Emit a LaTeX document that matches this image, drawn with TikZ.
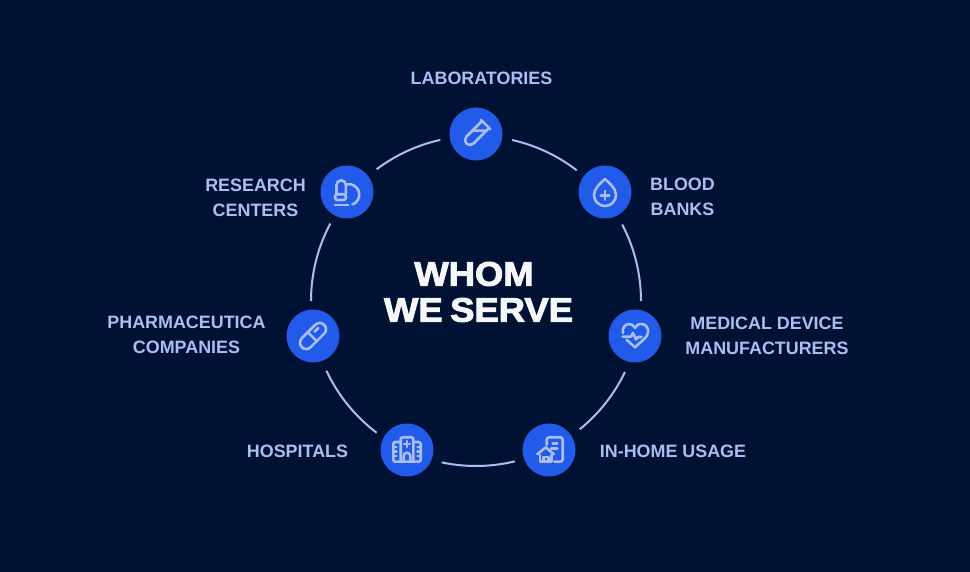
\documentclass[tikz,border=0pt]{standalone}
\usepackage{fontspec}
\setmainfont{Liberation Sans}
\newfontfamily\titlefont[FakeStretch=1.07,BoldFeatures={FakeBold=2.8,FakeStretch=1.07},WordSpace=0.75]{Liberation Sans}
\definecolor{bgc}{HTML}{001233}
\definecolor{disc}{HTML}{225AEA}
\definecolor{pale}{HTML}{ABBEF2}
\definecolor{titlec}{HTML}{F6F7FA}
\tikzset{
  hub/.style={circle,fill=disc,minimum size=53pt,inner sep=0pt},
  ring/.style={draw=pale,line width=2pt,line cap=butt},
  ico/.style={draw=pale,line width=2.6pt,line cap=round,line join=round},
  lab/.style={text=pale,font=\fontsize{17.9}{25}\selectfont\bfseries,align=center,inner sep=0pt},
  ttl/.style={text=titlec,font=\titlefont\fontsize{34}{36}\selectfont\bfseries,inner sep=0pt}
}
\newcommand{\ringarc}[2]{\draw[ring] ([shift={(#1:165)}]cc) arc[start angle=#1,end angle=#2,radius=165];}
\begin{document}
\begin{tikzpicture}[x=1pt,y=1pt]
\useasboundingbox (0,0) rectangle (970,572);
\fill[bgc] (0,0) rectangle (970,572);
\coordinate (cc) at (476,271);
\ringarc{77.4}{52.4}
\ringarc{27.6}{0}
\ringarc{-25.5}{-51}
\ringarc{-76.4}{-102}
\ringarc{-127}{-155}
\ringarc{180}{152}
\ringarc{127}{102.5}
\node[hub] (lab) at (476,438) {};
\node[hub] (blood) at (605,380) {};
\node[hub] (med) at (635,236) {};
\node[hub] (home) at (549,122) {};
\node[hub] (hosp) at (407,122) {};
\node[hub] (pharm) at (313,236) {};
\node[hub] (res) at (347,380) {};
% test tube
\begin{scope}[shift={(lab)},rotate=45]
\draw[ico] (13.3,5) -- (-8.5,5) arc[start angle=90,end angle=270,radius=5] -- (13.3,-5);
\draw[ico] (13.5,-6.6) -- (13.5,6.6);
\draw[ico] (-0.3,5) -- (9.7,-5);
\end{scope}
% drop
\begin{scope}[shift={(blood)}]
\draw[ico] (0,13) .. controls (-4,9) and (-11,4) .. (-11,-3) arc[start angle=180,end angle=360,radius=11] .. controls (11,4) and (4,9) .. (0,13) -- cycle;
\draw[ico] (-4.3,-3.3) -- (4.3,-3.3) (0,-7.6) -- (0,1);
\end{scope}
% heart
\begin{scope}[shift={(med)}]
\draw[ico] (-12,3) .. controls (-13.5,8) and (-9.5,12) .. (-6,12) .. controls (-3,12) and (-1,10) .. (0,8) .. controls (1,10) and (3,12) .. (6.5,12) .. controls (10,12) and (13.2,9) .. (13.2,4.5) .. controls (13.2,-1.5) and (5,-6) .. (0,-11.5) .. controls (-3,-8.5) and (-6,-6) .. (-8.5,-3.5);
\draw[ico] (-12.5,-0.6) -- (-4,-0.6) -- (-2,3) -- (1,-3.5) -- (3,-1) -- (6.5,-1);
\end{scope}
% in-home
\begin{scope}[shift={(home)}]
\draw[ico] (-2.3,5) -- (-2.3,10.2) arc[start angle=180,end angle=90,radius=2.5] -- (11.2,12.7) arc[start angle=90,end angle=0,radius=2.5] -- (13.7,-9.2) arc[start angle=360,end angle=270,radius=2.5] -- (5.2,-11.7);
\draw[ico] (3.7,6.7) -- (8.3,6.7) (2.2,1.7) -- (8.3,1.7);
\draw[ico] (-11.7,-4.3) -- (-3.3,2.7) -- (5,-4.3);
\draw[ico] (-9,-5) -- (-9,-11.7) -- (2.7,-11.7) -- (2.7,-5);
\draw[ico] (-5.6,-11.7) -- (-5.6,-7) -- (-0.8,-7) -- (-0.8,-11.7);
\end{scope}
% hospital
\begin{scope}[shift={(hosp)}]
\draw[ico,rounded corners=2pt] (-6.3,-11.7) -- (-6.3,12.7) -- (6.3,12.7) -- (6.3,-11.7);
\draw[ico,rounded corners=2pt] (-6.3,8) -- (-13.7,8) -- (-13.7,-11.7) -- (13.7,-11.7) -- (13.7,8) -- (6.3,8);
\draw[ico] (-3,6) -- (3,6) (0,3) -- (0,9);
\draw[ico] (-3.3,-11.7) -- (-3.3,-6) arc[start angle=180,end angle=0,radius=3.3] -- (3.3,-11.7);
\draw[ico] (-13.7,3) -- (-10.5,3) (-13.7,-1.5) -- (-10.5,-1.5) (-13.7,-6) -- (-10.5,-6);
\draw[ico] (13.7,3) -- (10.5,3) (13.7,-1.5) -- (10.5,-1.5) (13.7,-6) -- (10.5,-6);
\end{scope}
% pill
\begin{scope}[shift={(pharm)},rotate=45]
\draw[ico] (-9.5,6.3) -- (9.5,6.3) arc[start angle=90,end angle=-90,radius=6.3] -- (-9.5,-6.3) arc[start angle=270,end angle=90,radius=6.3] -- cycle;
\draw[ico] (-1,-6.3) -- (-1,6.3);
\draw[ico] (4.2,2) -- (9.5,2);
\end{scope}
% microscope
\begin{scope}[shift={(res)}]
\draw[ico] (-10.5,-2.3) -- (-10.5,7) arc[start angle=180,end angle=0,radius=4.7] -- (-1.1,-2.3);
\draw[ico,rounded corners=2.5pt] (-12,-2.3) rectangle (-1,-8);
\draw[ico] (-12,-13) -- (1.3,-13);
\draw[ico] (0,7.7) arc[start angle=100,end angle=-70,radius=10.5];
\end{scope}
\node[lab] (tlab) at (481.5,494) {LABORATORIES};
\node[lab] (tblood) at (682.5,375.5) {BLOOD\\BANKS};
\node[lab] (tmed) at (767,236.5) {MEDICAL DEVICE\\MANUFACTURERS};
\node[lab] (thome) at (673,121) {IN-HOME USAGE};
\node[lab] (thosp) at (297.5,121) {HOSPITALS};
\node[lab] (tpharm) at (186.5,237.5) {PHARMACEUTICA\\COMPANIES};
\node[lab] (tres) at (255.5,374.5) {RESEARCH\\CENTERS};
\node[ttl] (t1) at (474,298) {WHOM};
\node[ttl] (t2) at (478.5,262) {WE SERVE};
\end{tikzpicture}
\end{document}
